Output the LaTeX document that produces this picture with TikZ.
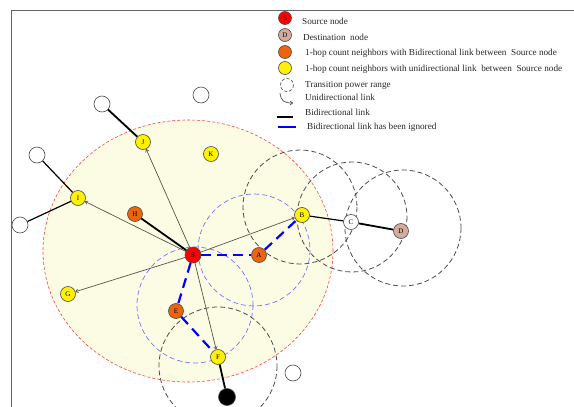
\documentclass[tikz,border=0pt]{standalone}
\usepackage{fontspec}
\setmainfont{Liberation Serif}
\usetikzlibrary{arrows.meta}
\definecolor{bgyellow}{RGB}{252,252,228}
\definecolor{orangenode}{RGB}{236,100,12}
\definecolor{tan}{RGB}{212,172,156}
\definecolor{thinline}{RGB}{85,85,75}
\begin{document}
\begin{tikzpicture}[x=1pt,y=-1pt,
  nd/.style={circle,draw=black!70,line width=0.6pt,minimum size=15pt,inner sep=0pt,font=\fontsize{7}{7}\selectfont},
  src/.style={nd,fill=red,minimum size=16pt},
  bi/.style={nd,fill=orangenode},
  uni/.style={nd,fill=yellow},
  dst/.style={nd,fill=tan},
  other/.style={nd,fill=white,minimum size=16pt},
  blk/.style={nd,fill=black,minimum size=17pt},
  lg/.style={circle,draw=black!70,line width=0.6pt,minimum size=13pt,inner sep=0pt,font=\fontsize{7}{7}\selectfont},
  lgtext/.style={anchor=west,inner sep=0pt,text=black!85,font=\fontsize{9.2}{10}\selectfont},
  rng/.style={draw=black!70,dash pattern=on 5pt off 3pt,line width=0.8pt},
  brng/.style={draw=blue!55,dash pattern=on 5pt off 3pt,line width=0.7pt},
  uarr/.style={draw=thinline,line width=0.7pt,-{To[length=3pt,width=4pt]}},
  bline/.style={line width=1.8pt,black},
  mline/.style={line width=1.2pt,black},
  ign/.style={blue,line width=2.2pt,dash pattern=on 10pt off 6pt}
]
\useasboundingbox (0,0) rectangle (574,407);
\begin{scope}
\clip (0,0) rectangle (574,407);
% frame
\draw[black!60,line width=0.9pt] (574,10) -- (11,10) -- (11,407);
% source range
\fill[bgyellow] (188,251) ellipse [x radius=145,y radius=131];
\draw[red!75,dash pattern=on 3pt off 2pt,line width=0.6pt] (188,251) ellipse [x radius=145,y radius=131];
% ranges
\draw[brng] (254,250) circle (56);
\draw[brng] (195,305) circle (58);
\draw[rng] (300,207) circle (57);
\draw[rng] (352,217) circle (55);
\draw[rng] (403,228) circle (58);
\draw[rng] (218,366) circle (59);

% nodes
\node[src] (S) at (193,255) {S};
\node[bi] (A) at (259,255) {A};
\node[uni] (B) at (302,215) {B};
\node[other,minimum size=15pt] (C) at (351,222) {C};
\node[dst] (D) at (401,231) {D};
\node[bi] (E) at (176,311) {E};
\node[uni] (F) at (218,357) {F};
\node[uni] (G) at (68,294) {G};
\node[bi] (H) at (135,214) {H};
\node[uni] (I) at (78,198) {I};
\node[uni] (J) at (143,142) {J};
\node[uni] (K) at (211,154) {K};
\node[other] (w1) at (102,104) {};
\node[other] (w2) at (201,95) {};
\node[other] (w3) at (37,155) {};
\node[other] (w4) at (20,225) {};
\node[other] (w5) at (293,373) {};
\node[blk] (bk) at (227,397) {};

% links
\draw[uarr] (S) -- (J);
\draw[uarr] (S) -- (I);
\draw[uarr] (S) -- (G);
\draw[uarr] (S) -- (B);
\draw[uarr] (S) -- (F);
\draw[bline] (S) -- (H);
\draw[bline] (J) -- (w1);
\draw[mline] (I) -- (w3);
\draw[mline] (I) -- (w4);
\draw[mline] (B) -- (C);
\draw[bline] (C) -- (D);
\draw[bline] (F) -- (bk);
\draw[ign] (S) -- (A);
\draw[ign] (A) -- (B);
\draw[ign] (S) -- (E);
\draw[ign] (E) -- (F);
\end{scope}

% legend
\node[lg,fill=red] (l1) at (285,18) {S};
\node[lgtext] (t1) at (302,21) {Source node};
\node[lg,fill=tan] (l2) at (285,35) {D};
\node[lgtext] (t2) at (303,37) {Destination\ \ node};
\node[lg,fill=orangenode] (l3) at (285,52) {};
\node[lgtext] (t3) at (305,53) {1-hop count neighbors with Bidirectional link between\ \ Source node};
\node[lg,fill=yellow] (l4) at (285,68) {};
\node[lgtext] (t4) at (305,69) {1-hop count neighbors with unidirectional link\ \ between\ \ Source node};
\node[lg,draw=none,minimum size=14pt] (l5) at (287,85) {};
\draw[draw=black!70,dash pattern=on 3pt off 2pt,line width=0.6pt] (l5.center) circle (6.5);
\node[lgtext] (t5) at (305,85) {Transition power range};
\coordinate (u1) at (280,93);
\coordinate (u2) at (293,103);
\draw[draw=black!70,line width=0.7pt,-{To[length=3pt,width=4pt]}] (u1) .. controls (281,101) and (284,103) .. (u2);
\node[lgtext] (t6) at (305,97) {Unidirectional link};
\coordinate (b1) at (277,117);
\coordinate (b2) at (293,117);
\draw[line width=2pt,black] (b1) -- (b2);
\node[lgtext] (t7) at (305,112) {Bidirectional link};
\coordinate (c1) at (278,127);
\coordinate (c2) at (296,127);
\draw[line width=2pt,blue] (c1) -- (c2);
\node[lgtext] (t8) at (307,127) {Bidirectional link has been ignored};
\end{tikzpicture}
\end{document}
